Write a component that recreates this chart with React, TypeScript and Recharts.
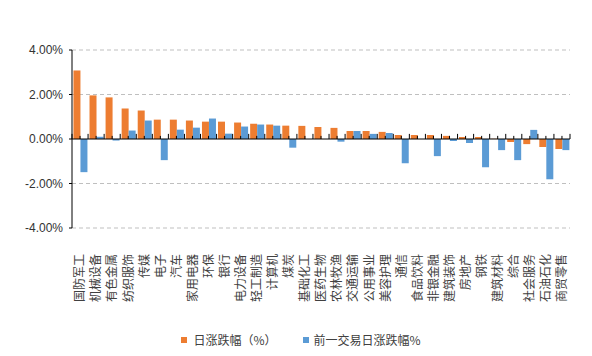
import { BarChart, Bar, XAxis, YAxis, CartesianGrid, Legend, ReferenceLine } from "recharts";

const categories = [
  "国防军工", "机械设备", "有色金属", "纺织服饰", "传媒", "电子", "汽车", "家用电器",
  "环保", "银行", "电力设备", "轻工制造", "计算机", "煤炭", "基础化工", "医药生物",
  "农林牧渔", "交通运输", "公用事业", "美容护理", "通信", "食品饮料", "非银金融", "建筑装饰",
  "房地产", "钢铁", "建筑材料", "综合", "社会服务", "石油石化", "商贸零售",
];

const dailyChange = [
  3.08, 1.96, 1.87, 1.37, 1.28, 0.87, 0.87, 0.83,
  0.78, 0.78, 0.74, 0.69, 0.65, 0.6, 0.59, 0.54,
  0.5, 0.36, 0.36, 0.32, 0.18, 0.18, 0.18, 0.14,
  0.09, 0.09, 0.01, -0.14, -0.23, -0.36, -0.45,
];

const prevChange = [
  -1.49, 0.1, -0.07, 0.38, 0.83, -0.95, 0.42, 0.51,
  0.92, 0.24, 0.56, 0.65, 0.6, -0.39, 0, 0,
  -0.12, 0.36, 0.23, 0.27, -1.09, 0, -0.77, -0.09,
  -0.18, -1.27, -0.5, -0.95, 0.41, -1.81, -0.5,
];

const yTicks = [-4, -2, 0, 2, 4];

const ORANGE = "#ED7D31";
const BLUE = "#5B9BD5";
const FONT = "'Liberation Sans', 'Noto Sans CJK SC', sans-serif";

const data = categories.map((name, i) => ({
  name,
  today: dailyChange[i],
  prev: prevChange[i],
}));

const CategoryTick = ({ x, y, payload }: any) => (
  <text
    x={0}
    y={0}
    transform={`translate(${x},${y + 24}) rotate(-90)`}
    textAnchor="end"
    dy="0.36em"
    fontSize={12}
    fill="#404040"
    fontFamily="'Noto Sans CJK SC', sans-serif"
  >
    {payload.value}
  </text>
);

const LegendContent = () => (
  <div
    style={{
      display: "flex",
      justifyContent: "center",
      paddingLeft: 10,
      fontSize: 12,
      color: "#404040",
      fontFamily: "'Noto Sans CJK SC', sans-serif",
      alignItems: "center",
    }}
  >
    <span style={{ width: 6, height: 6, background: ORANGE, marginRight: 6 }} />
    <span style={{ marginRight: 26 }}>日涨跌幅（%）</span>
    <span style={{ width: 6, height: 6, background: BLUE, marginRight: 5 }} />
    <span>前一交易日涨跌幅%</span>
  </div>
);

export default function App() {
  return (
    <div style={{ position: "fixed", left: 0, top: 0, width: 592, height: 356, background: "#fff" }}>
      <BarChart
        width={592}
        height={356}
        data={data}
        margin={{ top: 50, right: 22, left: 0, bottom: 0 }}
        barCategoryGap="9%"
        barGap={0}
      >
        <CartesianGrid
          vertical={false}
          stroke="#bfbfbf"
          strokeDasharray="4 3"
          horizontalValues={[-4, -2, 2, 4]}
        />
        <XAxis
          dataKey="name"
          interval={0}
          height={111}
          axisLine={false}
          tickLine={false}
          tickSize={0}
          tick={<CategoryTick />}
        />
        <YAxis
          width={72}
          domain={[-4, 4]}
          ticks={yTicks}
          tickFormatter={(v: number) => `${v.toFixed(2)}%`}
          axisLine={{ stroke: "#000" }}
          tickLine={{ stroke: "#000" }}
          tickSize={3}
          tickMargin={6}
          tick={{ fontSize: 12, fill: "#333", fontFamily: FONT }}
        />
        <Legend verticalAlign="bottom" wrapperStyle={{ left: 0, top: 331, width: 592 }} content={<LegendContent />} />
        <Bar dataKey="today" name="日涨跌幅（%）" fill={ORANGE} isAnimationActive={false} />
        <Bar dataKey="prev" name="前一交易日涨跌幅%" fill={BLUE} isAnimationActive={false} />
        <ReferenceLine y={0} stroke="#000" strokeWidth={1} />
        {categories.map((c) => (
          <ReferenceLine
            key={`c-${c}`}
            segment={[{ x: c, y: 0 }, { x: c, y: 0.14 }]}
            stroke="#000"
            ifOverflow="visible"
          />
        ))}
        {categories.map((c) => (
          <ReferenceLine
            key={`b-${c}`}
            position="start"
            segment={[{ x: c, y: 0 }, { x: c, y: 0.23 }]}
            stroke="#000"
            ifOverflow="visible"
          />
        ))}
        <ReferenceLine
          position="end"
          segment={[
            { x: categories[categories.length - 1], y: 0 },
            { x: categories[categories.length - 1], y: 0.23 },
          ]}
          stroke="#000"
          ifOverflow="visible"
        />
      </BarChart>
    </div>
  );
}
